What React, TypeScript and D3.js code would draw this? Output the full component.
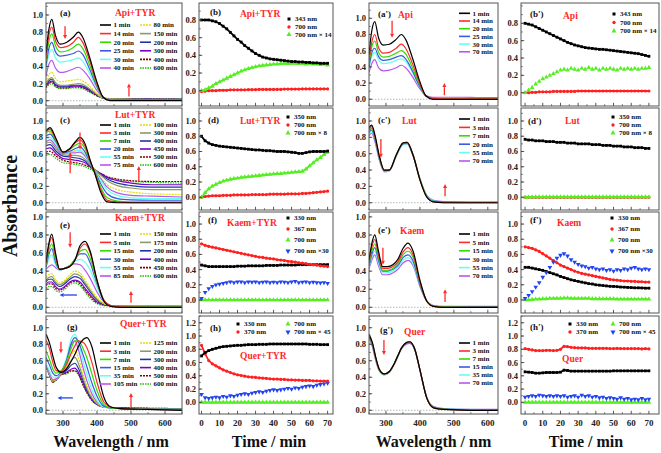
import React from "react";
import * as d3 from "d3";

const SERIF = "'Liberation Serif','Times New Roman',serif";
const RED = "#ff2a2a";

// ---------- time grid (min) ----------
const T = [0,2,4,6,8,10,12,14,16,18,20,22, 24,26,28,30,32,34,36,38,40,42,44,46, 48,50,52,54,56,58,60,62,64,66,68,70];

// ---------- time-course series ----------
const B_343 = [0.80,0.80,0.80,0.79,0.78,0.76,0.73,0.70,0.66,0.62,0.58,0.55, 0.51,0.48,0.45,0.42,0.40,0.38,0.37,0.36,0.355,0.35,0.345,0.34, 0.335,0.33,0.33,0.325,0.325,0.32,0.32,0.315,0.315,0.31,0.31,0.31];
const B_700 = [-0.01,-0.005,0,0,0,0.005,0.005,0.005,0.01,0.01,0.01,0.01, 0.01,0.012,0.012,0.012,0.015,0.015,0.015,0.015,0.015,0.015,0.015,0.018, 0.018,0.018,0.018,0.018,0.02,0.02,0.02,0.02,0.02,0.02,0.02,0.02];
const B_700x14 = [0.0,0.01,0.03,0.05,0.08,0.10,0.12,0.14,0.16,0.18,0.20,0.22, 0.235,0.25,0.26,0.27,0.28,0.285,0.29,0.295,0.30,0.30,0.305,0.31, 0.305,0.31,0.31,0.305,0.31,0.30,0.305,0.30,0.30,0.295,0.30,0.29];

const D_350 = [0.80,0.74,0.71,0.69,0.68,0.67,0.665,0.66,0.655,0.65,0.645,0.64, 0.635,0.63,0.625,0.62,0.62,0.615,0.61,0.61,0.605,0.60,0.60,0.60, 0.595,0.59,0.585,0.575,0.575,0.585,0.595,0.60,0.60,0.60,0.60,0.605];
const D_700 = [0.0,0.01,0.015,0.02,0.02,0.02,0.025,0.025,0.025,0.03,0.03,0.03, 0.03,0.03,0.035,0.035,0.035,0.035,0.035,0.04,0.04,0.04,0.04,0.04, 0.045,0.045,0.045,0.045,0.05,0.05,0.055,0.06,0.065,0.07,0.075,0.08];
const D_700x8 = [0.0,0.06,0.11,0.145,0.17,0.19,0.21,0.225,0.235,0.245,0.25,0.26, 0.265,0.27,0.275,0.28,0.285,0.29,0.295,0.30,0.305,0.31,0.31,0.315, 0.32,0.325,0.33,0.335,0.34,0.37,0.41,0.45,0.49,0.52,0.56,0.59];

const F_330 = [0.46,0.45,0.44,0.44,0.44,0.44,0.44,0.44,0.44,0.44,0.445,0.445, 0.445,0.45,0.45,0.45,0.45,0.45,0.455,0.455,0.455,0.455,0.46,0.46, 0.46,0.46,0.46,0.465,0.465,0.465,0.465,0.465,0.465,0.465,0.465,0.465];
const F_367 = [0.74,0.72,0.705,0.695,0.685,0.675,0.665,0.655,0.645,0.635,0.625,0.615, 0.605,0.595,0.585,0.575,0.565,0.56,0.55,0.545,0.54,0.53,0.525,0.52, 0.51,0.505,0.50,0.49,0.485,0.48,0.47,0.465,0.46,0.45,0.445,0.44];
const F_700 = [0,0,0,0,0,0,0,0,0,0,0,0, 0,0,0,0,0,0,0,0,0,0,0,0, 0,0,0,0,0,0,0,0,0,0,0,0];
const F_700x30 = [0.02,0.10,0.15,0.18,0.20,0.21,0.22,0.23,0.24,0.23,0.24,0.24, 0.23,0.24,0.235,0.24,0.23,0.235,0.24,0.23,0.235,0.23,0.24,0.235, 0.23,0.24,0.245,0.23,0.235,0.24,0.23,0.235,0.23,0.225,0.23,0.22];

const H_330 = [0.70,0.75,0.78,0.80,0.815,0.83,0.84,0.845,0.85,0.855,0.86,0.86, 0.865,0.87,0.87,0.87,0.875,0.875,0.875,0.88,0.88,0.88,0.88,0.88, 0.88,0.88,0.88,0.88,0.88,0.88,0.875,0.875,0.875,0.87,0.87,0.87];
const H_370 = [0.86,0.73,0.63,0.58,0.55,0.52,0.49,0.47,0.45,0.43,0.415,0.405, 0.395,0.385,0.38,0.375,0.37,0.365,0.36,0.355,0.35,0.35,0.345,0.345, 0.34,0.34,0.335,0.335,0.33,0.33,0.33,0.325,0.325,0.32,0.32,0.32];
const H_700 = [0,0,0,0,0,0,0,0,0,0,0,0, 0,0,0,0,0,0,0,0,0,0,0,0, 0,0,0,0,0,0,0,0,0,0,0,0];
const H_700x45 = [0.12,0.07,0.06,0.07,0.08,0.07,0.09,0.08,0.10,0.09,0.11,0.12, 0.13,0.12,0.14,0.15,0.16,0.15,0.17,0.18,0.19,0.18,0.19,0.20, 0.21,0.20,0.22,0.21,0.23,0.24,0.25,0.24,0.26,0.27,0.28,0.29];

const BP_343 = [0.80,0.79,0.78,0.76,0.74,0.72,0.70,0.68,0.66,0.64,0.62,0.60, 0.58,0.565,0.55,0.54,0.53,0.52,0.515,0.51,0.505,0.50,0.50,0.495, 0.49,0.485,0.48,0.475,0.47,0.465,0.46,0.455,0.45,0.44,0.43,0.42];
const BP_700 = [0,0,0.005,0.005,0.01,0.01,0.01,0.01,0.015,0.015,0.015,0.015, 0.015,0.015,0.015,0.02,0.02,0.02,0.02,0.02,0.02,0.02,0.02,0.02, 0.02,0.02,0.02,0.02,0.02,0.02,0.02,0.02,0.02,0.02,0.02,0.02];
const BP_700x14 = [0.0,0.03,0.06,0.10,0.13,0.16,0.18,0.20,0.22,0.24,0.26,0.27, 0.26,0.28,0.27,0.26,0.28,0.27,0.29,0.27,0.28,0.26,0.28,0.27, 0.28,0.27,0.26,0.28,0.27,0.28,0.27,0.28,0.27,0.28,0.28,0.29];

const DP_350 = [0.76,0.75,0.75,0.74,0.74,0.74,0.73,0.73,0.73,0.72,0.72,0.72, 0.71,0.71,0.71,0.70,0.70,0.70,0.70,0.69,0.69,0.69,0.68,0.68, 0.68,0.67,0.67,0.67,0.66,0.66,0.66,0.65,0.65,0.65,0.64,0.64];
const DP_700 = [0,0,0,0,0,0,0,0,0,0,0,0, 0,0,0,0,0,0,0,0,0,0,0,0, 0,0,0,0,0,0,0,0,0,0,0,0];
const DP_700x8 = [0,0,0.005,0.005,0.005,0.005,0.005,0.005,0.005,0.005,0.005,0.005, 0.005,0.005,0.005,0.005,0.005,0.005,0.005,0.005,0.005,0.005,0.005,0.005, 0.005,0.005,0.005,0.005,0.005,0.005,0.005,0.005,0.005,0.005,0.005,0.005];

const FP_330 = [0.43,0.43,0.42,0.41,0.40,0.39,0.375,0.36,0.345,0.33,0.31,0.295, 0.28,0.265,0.255,0.245,0.235,0.225,0.215,0.21,0.20,0.195,0.19,0.185, 0.18,0.178,0.175,0.17,0.168,0.165,0.163,0.16,0.16,0.158,0.155,0.155];
const FP_367 = [0.70,0.69,0.68,0.66,0.64,0.61,0.58,0.55,0.52,0.49,0.46,0.44, 0.42,0.40,0.38,0.365,0.35,0.34,0.33,0.32,0.31,0.30,0.29,0.28, 0.27,0.265,0.26,0.255,0.25,0.25,0.245,0.245,0.24,0.24,0.235,0.235];
const FP_700 = [0.0,0.0,0.005,0.01,0.01,0.015,0.015,0.02,0.02,0.02,0.02,0.025, 0.025,0.02,0.02,0.02,0.02,0.02,0.02,0.015,0.015,0.015,0.015,0.015, 0.015,0.015,0.01,0.01,0.01,0.01,0.01,0.01,0.01,0.01,0.01,0.01];
const FP_700x30 = [0.02,0.06,0.11,0.17,0.23,0.30,0.36,0.43,0.50,0.55,0.59,0.61, 0.58,0.53,0.50,0.47,0.45,0.44,0.42,0.43,0.41,0.40,0.41,0.39, 0.40,0.38,0.40,0.39,0.41,0.40,0.42,0.43,0.41,0.40,0.41,0.40];

const HP_330 = [0.46,0.455,0.45,0.44,0.44,0.445,0.45,0.45,0.45,0.45,0.455,0.485, 0.48,0.47,0.47,0.47,0.47,0.47,0.47,0.47,0.47,0.47,0.47,0.47, 0.47,0.475,0.475,0.475,0.475,0.475,0.475,0.475,0.475,0.475,0.475,0.475];
const HP_370 = [0.81,0.80,0.79,0.78,0.78,0.78,0.785,0.785,0.78,0.785,0.80,0.845, 0.84,0.83,0.825,0.82,0.82,0.82,0.815,0.815,0.815,0.815,0.815,0.815, 0.81,0.81,0.815,0.81,0.81,0.81,0.81,0.81,0.81,0.805,0.81,0.805];
const HP_700 = [0,0,0,0,0,0,0,0,0,0,0,0, 0,0,0,0,0,0,0,0,0,0,0,0, 0,0,0,0,0,0,0,0,0,0,0,0];
const HP_700x45 = [0.08,0.09,0.10,0.09,0.11,0.10,0.09,0.10,0.09,0.10,0.09,0.10, 0.08,0.09,0.10,0.08,0.11,0.09,0.10,0.08,0.09,0.07,0.08,0.06, 0.07,0.06,0.05,0.07,0.05,0.06,0.04,0.05,0.04,0.06,0.04,0.05];

// ---------- spectra ----------
const GRID_API = [250,258,267,278,292,310,330,345,358,378,398,418,438,470,520,580,650];
const API_TYR = [
  [0.55,0.82,0.95,0.76,0.66,0.68,0.74,0.80,0.74,0.51,0.24,0.04,0.0,0.0,0.0,0.0,0.0],
  [0.50,0.75,0.86,0.70,0.62,0.63,0.68,0.74,0.68,0.47,0.22,0.04,0.005,0.005,0.005,0.005,0.005],
  [0.46,0.68,0.78,0.64,0.57,0.58,0.62,0.66,0.61,0.42,0.20,0.04,0.01,0.005,0.005,0.005,0.005],
  [0.41,0.60,0.68,0.57,0.52,0.53,0.55,0.58,0.54,0.37,0.18,0.04,0.01,0.01,0.01,0.01,0.01],
  [0.37,0.53,0.60,0.50,0.45,0.46,0.48,0.50,0.46,0.32,0.16,0.04,0.01,0.01,0.01,0.01,0.01],
  [0.29,0.42,0.47,0.38,0.33,0.34,0.37,0.39,0.36,0.26,0.13,0.04,0.015,0.01,0.01,0.01,0.01],
  [0.21,0.30,0.33,0.26,0.22,0.23,0.24,0.25,0.23,0.17,0.09,0.03,0.02,0.015,0.015,0.01,0.01],
  [0.19,0.25,0.27,0.21,0.18,0.18,0.19,0.20,0.19,0.14,0.08,0.03,0.02,0.02,0.015,0.015,0.01],
  [0.18,0.23,0.25,0.19,0.17,0.17,0.18,0.18,0.17,0.13,0.07,0.03,0.02,0.02,0.02,0.015,0.015],
  [0.17,0.21,0.23,0.18,0.16,0.16,0.17,0.17,0.16,0.12,0.07,0.03,0.02,0.02,0.02,0.015,0.015],
  [0.16,0.20,0.22,0.17,0.15,0.15,0.16,0.16,0.15,0.11,0.06,0.03,0.02,0.02,0.02,0.02,0.015],
  [0.15,0.18,0.20,0.16,0.14,0.14,0.15,0.15,0.14,0.10,0.06,0.03,0.025,0.02,0.02,0.02,0.02],
];
const LEG_API_TYR = ["1 min","14 min","20 min","25 min","30 min","40 min","80 min","150 min","200 min","300 min","400 min","600 min"];

const API = [
  [0.55,0.84,0.96,0.76,0.67,0.68,0.74,0.80,0.74,0.51,0.24,0.04,0.0,0.0,0.0,0.0,0.0],
  [0.47,0.70,0.80,0.64,0.57,0.58,0.63,0.68,0.63,0.44,0.21,0.04,0.01,0.005,0.005,0.005,0.005],
  [0.43,0.64,0.72,0.58,0.52,0.53,0.57,0.60,0.56,0.39,0.19,0.04,0.01,0.01,0.01,0.01,0.01],
  [0.40,0.57,0.63,0.53,0.48,0.49,0.52,0.54,0.50,0.35,0.17,0.04,0.015,0.01,0.01,0.01,0.01],
  [0.38,0.53,0.58,0.49,0.44,0.45,0.48,0.50,0.47,0.33,0.16,0.04,0.015,0.015,0.015,0.01,0.01],
  [0.33,0.44,0.49,0.39,0.35,0.36,0.39,0.42,0.39,0.28,0.14,0.045,0.025,0.025,0.025,0.02,0.02],
];
const LEG_API = ["1 min","14 min","20 min","25 min","30 min","70 min"];

const GRID_LUT = [250,262,280,300,320,335,350,365,380,395,410,430,460,500,560,650];
const LUT_TYR = [
  [0.88,0.92,0.78,0.62,0.66,0.74,0.80,0.72,0.52,0.34,0.14,0.01,0.0,0.0,0.0,0.0],
  [0.87,0.90,0.77,0.62,0.66,0.73,0.77,0.69,0.51,0.35,0.17,0.03,0.01,0.0,0.0,0.0],
  [0.86,0.88,0.76,0.62,0.65,0.70,0.73,0.66,0.50,0.36,0.20,0.06,0.02,0.01,0.01,0.01],
  [0.82,0.84,0.74,0.61,0.63,0.66,0.68,0.62,0.49,0.37,0.24,0.11,0.05,0.035,0.03,0.03],
  [0.78,0.80,0.71,0.61,0.62,0.63,0.64,0.59,0.48,0.38,0.28,0.16,0.09,0.06,0.05,0.05],
  [0.75,0.77,0.69,0.60,0.61,0.61,0.62,0.57,0.47,0.38,0.30,0.19,0.12,0.09,0.08,0.07],
  [0.85,0.86,0.75,0.62,0.62,0.64,0.65,0.58,0.48,0.39,0.31,0.22,0.16,0.13,0.11,0.10],
  [0.73,0.74,0.66,0.59,0.58,0.58,0.57,0.53,0.46,0.40,0.34,0.27,0.21,0.18,0.16,0.16],
  [0.70,0.71,0.63,0.57,0.56,0.55,0.54,0.51,0.45,0.40,0.35,0.29,0.24,0.21,0.19,0.19],
  [0.66,0.67,0.60,0.54,0.53,0.52,0.51,0.49,0.44,0.40,0.36,0.31,0.27,0.24,0.22,0.22],
  [0.62,0.63,0.57,0.52,0.50,0.49,0.48,0.46,0.43,0.39,0.36,0.32,0.29,0.27,0.26,0.26],
  [0.58,0.59,0.54,0.49,0.48,0.47,0.46,0.44,0.41,0.38,0.35,0.31,0.28,0.26,0.25,0.24],
];
const LEG_LUT_TYR = ["1 min","3 min","7 min","20 min","55 min","75 min","100 min","300 min","400 min","450 min","500 min","600 min"];

const GRID_LUT2 = [250,258,268,280,295,310,330,350,362,380,400,420,440,470,550,650];
const LUT = [
  [0.92,0.95,0.82,0.58,0.40,0.40,0.58,0.73,0.74,0.58,0.28,0.07,0.01,0.0,0.0,0.0],
  [0.90,0.93,0.80,0.57,0.40,0.40,0.58,0.73,0.74,0.58,0.28,0.07,0.01,0.0,0.0,0.0],
  [0.88,0.91,0.79,0.56,0.39,0.40,0.58,0.73,0.74,0.58,0.29,0.08,0.015,0.005,0.0,0.0],
  [0.86,0.89,0.77,0.55,0.39,0.40,0.58,0.72,0.73,0.58,0.29,0.08,0.02,0.01,0.005,0.005],
  [0.84,0.87,0.76,0.54,0.38,0.39,0.57,0.71,0.72,0.57,0.29,0.09,0.025,0.01,0.01,0.01],
  [0.82,0.85,0.74,0.53,0.38,0.39,0.57,0.71,0.72,0.57,0.29,0.09,0.03,0.015,0.01,0.01],
];
const LEG_LUT = ["1 min","3 min","7 min","20 min","55 min","70 min"];

const GRID_KAEM = [250,258,267,278,290,305,320,335,350,365,380,400,420,440,470,550,650];
const KAEM_TYR = [
  [0.50,0.70,0.81,0.60,0.42,0.43,0.45,0.52,0.68,0.73,0.62,0.30,0.07,0.01,0.0,0.0,0.0],
  [0.48,0.67,0.77,0.57,0.42,0.43,0.45,0.52,0.65,0.70,0.60,0.30,0.08,0.02,0.005,0.0,0.0],
  [0.46,0.62,0.70,0.53,0.42,0.43,0.46,0.53,0.62,0.64,0.54,0.28,0.08,0.02,0.01,0.005,0.005],
  [0.44,0.58,0.65,0.50,0.42,0.43,0.46,0.53,0.59,0.59,0.49,0.26,0.08,0.02,0.01,0.005,0.005],
  [0.43,0.53,0.58,0.47,0.41,0.43,0.46,0.51,0.53,0.50,0.41,0.22,0.07,0.02,0.01,0.01,0.01],
  [0.42,0.45,0.47,0.44,0.41,0.43,0.46,0.48,0.47,0.41,0.32,0.17,0.06,0.02,0.01,0.01,0.01],
  [0.33,0.36,0.37,0.31,0.27,0.30,0.36,0.40,0.38,0.30,0.21,0.11,0.04,0.02,0.01,0.01,0.01],
  [0.30,0.33,0.34,0.28,0.25,0.28,0.33,0.37,0.35,0.27,0.19,0.09,0.04,0.02,0.01,0.01,0.01],
  [0.28,0.31,0.31,0.26,0.23,0.26,0.31,0.34,0.32,0.25,0.17,0.08,0.03,0.02,0.01,0.01,0.01],
  [0.25,0.28,0.28,0.23,0.20,0.23,0.28,0.30,0.28,0.21,0.14,0.06,0.03,0.02,0.01,0.01,0.01],
  [0.24,0.26,0.26,0.21,0.19,0.22,0.27,0.29,0.26,0.19,0.12,0.05,0.03,0.02,0.01,0.01,0.01],
  [0.21,0.23,0.23,0.19,0.17,0.20,0.25,0.27,0.24,0.17,0.10,0.04,0.02,0.015,0.01,0.01,0.01],
];
const LEG_KAEM_TYR = ["1 min","5 min","15 min","30 min","55 min","85 min","150 min","175 min","200 min","400 min","450 min","600 min"];

const KAEM = [
  [0.52,0.70,0.80,0.62,0.45,0.45,0.47,0.53,0.65,0.71,0.62,0.30,0.07,0.01,0.0,0.0,0.0],
  [0.50,0.66,0.75,0.58,0.43,0.43,0.45,0.50,0.61,0.66,0.58,0.28,0.07,0.01,0.0,0.0,0.0],
  [0.48,0.62,0.70,0.55,0.41,0.41,0.43,0.48,0.58,0.62,0.55,0.27,0.07,0.015,0.005,0.0,0.0],
  [0.46,0.58,0.66,0.52,0.40,0.40,0.42,0.46,0.55,0.58,0.51,0.25,0.07,0.015,0.005,0.005,0.005],
  [0.44,0.55,0.62,0.49,0.38,0.38,0.40,0.44,0.52,0.55,0.48,0.24,0.07,0.02,0.01,0.005,0.005],
  [0.42,0.52,0.58,0.46,0.36,0.36,0.38,0.42,0.49,0.52,0.46,0.23,0.07,0.02,0.01,0.01,0.01],
];
const LEG_KAEM = ["1 min","5 min","15 min","30 min","55 min","70 min"];

const GRID_QUER = [250,260,270,280,295,310,325,335,345,360,370,385,400,420,440,470,550,650];
const QUER_TYR = [
  [0.92,0.82,0.66,0.52,0.46,0.50,0.60,0.68,0.77,0.86,0.88,0.77,0.50,0.16,0.04,0.02,0.01,0.0],
  [0.85,0.75,0.58,0.48,0.47,0.55,0.70,0.78,0.84,0.82,0.76,0.58,0.34,0.10,0.04,0.02,0.01,0.005],
  [0.72,0.62,0.50,0.45,0.48,0.58,0.76,0.84,0.84,0.74,0.64,0.44,0.24,0.07,0.03,0.02,0.01,0.01],
  [0.64,0.55,0.45,0.42,0.47,0.60,0.82,0.88,0.83,0.66,0.53,0.33,0.17,0.05,0.03,0.02,0.01,0.01],
  [0.57,0.48,0.40,0.40,0.47,0.63,0.88,0.92,0.82,0.58,0.44,0.25,0.12,0.04,0.03,0.02,0.01,0.01],
  [0.55,0.45,0.37,0.38,0.46,0.58,0.80,0.84,0.74,0.50,0.36,0.20,0.10,0.04,0.03,0.02,0.015,0.01],
  [0.55,0.44,0.36,0.37,0.45,0.54,0.68,0.72,0.64,0.43,0.30,0.17,0.09,0.04,0.03,0.02,0.015,0.01],
  [0.54,0.43,0.35,0.37,0.44,0.51,0.61,0.64,0.57,0.38,0.27,0.15,0.08,0.04,0.03,0.02,0.015,0.015],
  [0.54,0.43,0.35,0.37,0.44,0.48,0.55,0.57,0.51,0.35,0.25,0.14,0.07,0.04,0.03,0.025,0.02,0.015],
  [0.55,0.43,0.35,0.37,0.44,0.46,0.50,0.51,0.46,0.32,0.23,0.13,0.07,0.04,0.03,0.025,0.02,0.02],
  [0.55,0.43,0.34,0.37,0.43,0.45,0.48,0.48,0.44,0.30,0.22,0.12,0.07,0.04,0.035,0.03,0.025,0.02],
  [0.56,0.44,0.34,0.36,0.43,0.44,0.47,0.47,0.43,0.29,0.21,0.12,0.07,0.045,0.035,0.03,0.025,0.02],
];
const LEG_QUER_TYR = ["1 min","3 min","7 min","15 min","35 min","105 min","125 min","200 min","300 min","400 min","500 min","600 min"];

const QUER = [
  [0.92,0.82,0.64,0.50,0.44,0.47,0.57,0.66,0.75,0.82,0.83,0.74,0.49,0.15,0.03,0.01,0.0,0.0],
  [0.91,0.81,0.63,0.50,0.44,0.47,0.57,0.66,0.75,0.82,0.83,0.74,0.49,0.15,0.03,0.01,0.0,0.0],
  [0.90,0.80,0.63,0.49,0.44,0.47,0.57,0.66,0.75,0.82,0.83,0.74,0.49,0.15,0.035,0.015,0.005,0.0],
  [0.89,0.79,0.62,0.49,0.44,0.47,0.57,0.66,0.75,0.81,0.82,0.73,0.49,0.15,0.04,0.015,0.005,0.005],
  [0.88,0.78,0.61,0.48,0.43,0.46,0.56,0.65,0.74,0.81,0.82,0.73,0.49,0.16,0.04,0.02,0.01,0.005],
  [0.87,0.77,0.60,0.48,0.43,0.46,0.56,0.65,0.74,0.80,0.81,0.73,0.49,0.16,0.045,0.02,0.01,0.01],
];
const LEG_QUER = ["1 min","3 min","7 min","15 min","35 min","70 min"];

const SPEC_TICKS = [0, 0.2, 0.4, 0.6, 0.8, 1.0];
const WL_TICKS = [300, 400, 500, 600];
const TIME_TICKS = [0, 10, 20, 30, 40, 50, 60, 70];

// ---------- styles / layout ----------
const SPEC_COLORS = ["#000000","#ff2a2a","#33dd00","#3a5ae0","#66ffee","#bb55ee","#e0e000","#8c9a6a","#2233aa","#7a00cc","#800000","#22bb00"];
const SPEC_DASH: (string | undefined)[] = [undefined,undefined,undefined,undefined,undefined,undefined,"2,1",undefined,undefined,undefined,"2,1","1.5,1"];
const S_BLACK = "#000000", S_RED = "#ff2020", S_GREEN = "#55ee22", S_BLUE = "#2244ee";

const COLS = [
  { x0: 46, x1: 182, dom: [250, 650] },
  { x0: 199, x1: 333, dom: [-1.4, 73] },
  { x0: 369, x1: 498, dom: [250, 630] },
  { x0: 521, x1: 659, dom: [-2.3, 75.7] },
];
const ROWS = [
  { y0: 3, y1: 106 },
  { y0: 108, y1: 210 },
  { y0: 212, y1: 313 },
  { y0: 316, y1: 414 },
];

type Arrow = { x1: number; y1: number; x2: number; y2: number; c: string };
type SpecPanel = {
  col: number; row: number; grid: number[]; curves: number[][]; labels: string[];
  ydom: [number, number]; tag: string; tagPos: [number, number]; name: string; namePos: [number, number];
  leg: { dx: number; dy0: number; step: number; dx2?: number }; arrows: Arrow[];
};

const SPECTRA: SpecPanel[] = [
  { col: 0, row: 0, grid: GRID_API, curves: API_TYR, labels: LEG_API_TYR, ydom: [-0.062, 1.14],
    tag: "(a)", tagPos: [14, 13], name: "Api+TYR", namePos: [69, 13], leg: { dx: 54, dy0: 22, step: 8.6, dx2: 94 },
    arrows: [{ x1: 306, y1: 0.87, x2: 306, y2: 0.72, c: RED }, { x1: 494, y1: 0.05, x2: 494, y2: 0.2, c: RED }] },
  { col: 0, row: 1, grid: GRID_LUT, curves: LUT_TYR, labels: LEG_LUT_TYR, ydom: [-0.089, 1.159],
    tag: "(c)", tagPos: [14, 15], name: "Lut+TYR", namePos: [69, 10], leg: { dx: 54, dy0: 17, step: 8.0, dx2: 94 },
    arrows: [{ x1: 321, y1: 0.36, x2: 321, y2: 0.62, c: RED }, { x1: 350, y1: 0.86, x2: 350, y2: 0.65, c: RED }, { x1: 523, y1: 0.26, x2: 523, y2: 0.45, c: RED }] },
  { col: 0, row: 2, grid: GRID_KAEM, curves: KAEM_TYR, labels: LEG_KAEM_TYR, ydom: [-0.063, 1.054],
    tag: "(e)", tagPos: [14, 16], name: "Kaem+TYR", namePos: [69, 9], leg: { dx: 54, dy0: 22, step: 8.4, dx2: 94 },
    arrows: [{ x1: 321, y1: 0.83, x2: 321, y2: 0.66, c: RED }, { x1: 341, y1: 0.136, x2: 290, y2: 0.136, c: S_BLUE }, { x1: 500, y1: 0.05, x2: 500, y2: 0.18, c: RED }] },
  { col: 0, row: 3, grid: GRID_QUER, curves: QUER_TYR, labels: LEG_QUER_TYR, ydom: [-0.045, 1.142],
    tag: "(g)", tagPos: [21, 14], name: "Quer+TYR", namePos: [74, 11], leg: { dx: 54, dy0: 27, step: 8.2, dx2: 94 },
    arrows: [{ x1: 294, y1: 0.83, x2: 294, y2: 0.69, c: RED }, { x1: 329, y1: 0.15, x2: 284, y2: 0.15, c: S_BLUE }, { x1: 500, y1: 0.04, x2: 500, y2: 0.21, c: RED }] },
  { col: 2, row: 0, grid: GRID_API, curves: API, labels: LEG_API, ydom: [-0.083, 1.189],
    tag: "(a')", tagPos: [9, 14], name: "Api", namePos: [29, 15], leg: { dx: 90, dy0: 10.3, step: 7.7 },
    arrows: [{ x1: 318, y1: 0.97, x2: 318, y2: 0.76, c: RED }, { x1: 472, y1: 0.05, x2: 472, y2: 0.2, c: RED }] },
  { col: 2, row: 1, grid: GRID_LUT2, curves: LUT, labels: LEG_LUT, ydom: [-0.089, 1.159],
    tag: "(c')", tagPos: [9, 15], name: "Lut", namePos: [33, 16], leg: { dx: 90, dy0: 11, step: 8.4 },
    arrows: [{ x1: 285, y1: 0.78, x2: 285, y2: 0.55, c: RED }, { x1: 474, y1: 0.08, x2: 474, y2: 0.23, c: RED }] },
  { col: 2, row: 2, grid: GRID_KAEM, curves: KAEM, labels: LEG_KAEM, ydom: [-0.063, 1.054],
    tag: "(e')", tagPos: [9, 21], name: "Kaem", namePos: [31, 22], leg: { dx: 90, dy0: 22, step: 8.4 },
    arrows: [{ x1: 291, y1: 0.66, x2: 291, y2: 0.47, c: RED }, { x1: 474, y1: 0.06, x2: 474, y2: 0.2, c: RED }] },
  { col: 2, row: 3, grid: GRID_QUER, curves: QUER, labels: LEG_QUER, ydom: [-0.045, 1.142],
    tag: "(g')", tagPos: [11, 17], name: "Quer", namePos: [35, 19], leg: { dx: 90, dy0: 27, step: 8.0 },
    arrows: [{ x1: 294, y1: 0.85, x2: 294, y2: 0.67, c: RED }] },
];

type Series = { vals: number[]; color: string; mk: string; line?: boolean };
type LegEntry = { label: string; color: string; mk: string; dx: number; dy: number };
type TimePanel = {
  col: number; row: number; ydom: [number, number]; yticks: number[]; series: Series[];
  legend: LegEntry[]; tag: string; tagPos: [number, number]; name: string; namePos: [number, number];
};

const TIMES: TimePanel[] = [
  { col: 1, row: 0, ydom: [-0.173, 0.992], yticks: [0, 0.2, 0.4, 0.6, 0.8],
    series: [{ vals: B_700, color: S_RED, mk: "circle", line: true }, { vals: B_700x14, color: S_GREEN, mk: "tri", line: true }, { vals: B_343, color: S_BLACK, mk: "square", line: true }],
    legend: [{ label: "343 nm", color: S_BLACK, mk: "square", dx: 90, dy: 16 }, { label: "700 nm", color: S_RED, mk: "circle", dx: 90, dy: 24 }, { label: "700 nm × 14", color: S_GREEN, mk: "tri", dx: 90, dy: 31.5 }],
    tag: "(b)", tagPos: [11, 12], name: "Api+TYR", namePos: [41, 14] },
  { col: 1, row: 1, ydom: [-0.167, 1.17], yticks: [0, 0.2, 0.4, 0.6, 0.8, 1.0],
    series: [{ vals: D_700, color: S_RED, mk: "circle", line: true }, { vals: D_700x8, color: S_GREEN, mk: "tri", line: true }, { vals: D_350, color: S_BLACK, mk: "square", line: true }],
    legend: [{ label: "350 nm", color: S_BLACK, mk: "square", dx: 89, dy: 9 }, { label: "700 nm", color: S_RED, mk: "circle", dx: 89, dy: 17 }, { label: "700 nm × 8", color: S_GREEN, mk: "tri", dx: 89, dy: 25 }],
    tag: "(d)", tagPos: [9, 15], name: "Lut+TYR", namePos: [41, 16] },
  { col: 1, row: 2, ydom: [-0.172, 1.159], yticks: [0, 0.2, 0.4, 0.6, 0.8, 1.0],
    series: [{ vals: F_700, color: S_GREEN, mk: "tri", line: true }, { vals: F_700x30, color: S_BLUE, mk: "dtri" }, { vals: F_330, color: S_BLACK, mk: "square", line: true }, { vals: F_367, color: S_RED, mk: "circle", line: true }],
    legend: [{ label: "330 nm", color: S_BLACK, mk: "square", dx: 89, dy: 6 }, { label: "367 nm", color: S_RED, mk: "circle", dx: 89, dy: 17 }, { label: "700 nm", color: S_GREEN, mk: "tri", dx: 89, dy: 28 }, { label: "700 nm  ×30", color: S_BLUE, mk: "dtri", dx: 89, dy: 39 }],
    tag: "(f)", tagPos: [9, 11], name: "Kaem+TYR", namePos: [28, 14] },
  { col: 1, row: 3, ydom: [-0.176, 1.302], yticks: [0, 0.2, 0.4, 0.6, 0.8, 1.0, 1.2],
    series: [{ vals: H_700, color: S_GREEN, mk: "tri", line: true }, { vals: H_700x45, color: S_BLUE, mk: "dtri" }, { vals: H_370, color: S_RED, mk: "circle", line: true }, { vals: H_330, color: S_BLACK, mk: "square", line: true }],
    legend: [{ label: "330 nm", color: S_BLACK, mk: "square", dx: 39, dy: 8 }, { label: "370 nm", color: S_RED, mk: "circle", dx: 39, dy: 16 }, { label: "700 nm", color: S_GREEN, mk: "tri", dx: 89, dy: 8 }, { label: "700 nm × 45", color: S_BLUE, mk: "dtri", dx: 89, dy: 16 }],
    tag: "(h)", tagPos: [11, 15], name: "Quer+TYR", namePos: [41, 43] },
  { col: 3, row: 0, ydom: [-0.153, 1.034], yticks: [0, 0.2, 0.4, 0.6, 0.8],
    series: [{ vals: BP_700, color: S_RED, mk: "circle", line: true }, { vals: BP_700x14, color: S_GREEN, mk: "tri" }, { vals: BP_343, color: S_BLACK, mk: "square", line: true }],
    legend: [{ label: "343 nm", color: S_BLACK, mk: "square", dx: 93, dy: 11 }, { label: "700 nm", color: S_RED, mk: "circle", dx: 93, dy: 19.5 }, { label: "700 nm × 14", color: S_GREEN, mk: "tri", dx: 93, dy: 28 }],
    tag: "(b')", tagPos: [9, 14], name: "Api", namePos: [42, 16] },
  { col: 3, row: 1, ydom: [-0.167, 1.17], yticks: [0, 0.2, 0.4, 0.6, 0.8, 1.0],
    series: [{ vals: DP_700, color: S_RED, mk: "circle", line: true }, { vals: DP_700x8, color: S_GREEN, mk: "tri", line: true }, { vals: DP_350, color: S_BLACK, mk: "square", line: true }],
    legend: [{ label: "350 nm", color: S_BLACK, mk: "square", dx: 92, dy: 9 }, { label: "700 nm", color: S_RED, mk: "circle", dx: 92, dy: 17 }, { label: "700 nm × 8", color: S_GREEN, mk: "tri", dx: 92, dy: 25 }],
    tag: "(d')", tagPos: [7, 16], name: "Lut", namePos: [44, 16] },
  { col: 3, row: 2, ydom: [-0.172, 1.159], yticks: [0, 0.2, 0.4, 0.6, 0.8, 1.0],
    series: [{ vals: FP_700, color: S_GREEN, mk: "tri", line: true }, { vals: FP_330, color: S_BLACK, mk: "square", line: true }, { vals: FP_367, color: S_RED, mk: "circle", line: true }, { vals: FP_700x30, color: S_BLUE, mk: "dtri" }],
    legend: [{ label: "330 nm", color: S_BLACK, mk: "square", dx: 91, dy: 6 }, { label: "367 nm", color: S_RED, mk: "circle", dx: 91, dy: 17 }, { label: "700 nm", color: S_GREEN, mk: "tri", dx: 91, dy: 28 }, { label: "700 nm  ×30", color: S_BLUE, mk: "dtri", dx: 91, dy: 39 }],
    tag: "(f')", tagPos: [9, 11], name: "Kaem", namePos: [36, 14] },
  { col: 3, row: 3, ydom: [-0.176, 1.302], yticks: [0, 0.2, 0.4, 0.6, 0.8, 1.0, 1.2],
    series: [{ vals: HP_700, color: S_GREEN, mk: "tri", line: true }, { vals: HP_700x45, color: S_BLUE, mk: "dtri" }, { vals: HP_370, color: S_RED, mk: "circle", line: true }, { vals: HP_330, color: S_BLACK, mk: "square", line: true }],
    legend: [{ label: "330 nm", color: S_BLACK, mk: "square", dx: 49, dy: 8 }, { label: "370 nm", color: S_RED, mk: "circle", dx: 49, dy: 16 }, { label: "700 nm", color: S_GREEN, mk: "tri", dx: 92, dy: 8 }, { label: "700 nm × 45", color: S_BLUE, mk: "dtri", dx: 92, dy: 16 }],
    tag: "(h')", tagPos: [9, 14], name: "Quer", namePos: [41, 46] },
];

// ---------- helpers ----------
function symbolPath(mk: string, size: number) {
  if (mk === "square") return d3.symbol().type(d3.symbolSquare).size(size)() || "";
  if (mk === "circle") return d3.symbol().type(d3.symbolCircle).size(size)() || "";
  return d3.symbol().type(d3.symbolTriangle).size(size * 1.2)() || "";
}

function ArrowMark({ a, xs, ys }: { a: Arrow; xs: any; ys: any }) {
  const X1 = xs(a.x1), Y1 = ys(a.y1), X2 = xs(a.x2), Y2 = ys(a.y2);
  const ang = Math.atan2(Y2 - Y1, X2 - X1);
  const L = 4, Wd = 2;
  const bx = X2 - L * Math.cos(ang), by = Y2 - L * Math.sin(ang);
  const px = -Math.sin(ang) * Wd, py = Math.cos(ang) * Wd;
  return (
    <g>
      <line x1={X1} y1={Y1} x2={bx} y2={by} stroke={a.c} strokeWidth={1.3} />
      <path d={`M${X2},${Y2}L${bx + px},${by + py}L${bx - px},${by - py}Z`} fill={a.c} />
    </g>
  );
}

function Axes({ col, row, xs, ys, yticks, xticks, xminor, showX }: any) {
  const c = COLS[col], r = ROWS[row];
  const fmt = d3.format(".1f");
  const yd = ys.domain();
  const yminor = d3.range(0, 1.35, 0.1).filter((v: number) => v >= yd[0] && v <= yd[1]);
  return (
    <g>
      <rect x={c.x0} y={r.y0} width={c.x1 - c.x0} height={r.y1 - r.y0} fill="none" stroke="#555" strokeWidth={1} />
      {yminor.map((v: number, i: number) => (
        <line key={"ym" + i} x1={c.x0} x2={c.x0 + 1.8} y1={ys(v)} y2={ys(v)} stroke="#555" strokeWidth={0.8} />
      ))}
      {yticks.map((v: number) => (
        <g key={"y" + v}>
          <line x1={c.x0} x2={c.x0 + 3.2} y1={ys(v)} y2={ys(v)} stroke="#444" strokeWidth={0.9} />
          <text x={c.x0 - 3} y={ys(v) + 3} textAnchor="end" fontFamily={SERIF} fontWeight="bold" fontSize={8.5} fill="#222">{fmt(v)}</text>
        </g>
      ))}
      {xminor.map((v: number, i: number) => (
        <line key={"xm" + i} x1={xs(v)} x2={xs(v)} y1={r.y1} y2={r.y1 - 1.8} stroke="#555" strokeWidth={0.8} />
      ))}
      {xticks.map((v: number) => (
        <g key={"x" + v}>
          <line x1={xs(v)} x2={xs(v)} y1={r.y1} y2={r.y1 - 3.2} stroke="#444" strokeWidth={0.9} />
          {showX && (
            <text x={xs(v)} y={r.y1 + 12} textAnchor="middle" fontFamily={SERIF} fontWeight="bold" fontSize={9} fill="#222">{v}</text>
          )}
        </g>
      ))}
    </g>
  );
}

function Spectra({ p }: { p: SpecPanel }) {
  const c = COLS[p.col], r = ROWS[p.row];
  const xs = d3.scaleLinear().domain(c.dom).range([c.x0, c.x1]);
  const ys = d3.scaleLinear().domain(p.ydom).range([r.y1, r.y0]);
  const line = d3.line<[number, number]>().x((d) => xs(d[0])).y((d) => ys(d[1])).curve(d3.curveMonotoneX);
  const id = `clip-s-${p.col}-${p.row}`;
  const order = p.curves.map((_, i) => i).reverse();
  const xminor = [250, 350, 450, 550, 650].filter((v) => v >= c.dom[0] && v <= c.dom[1]);
  return (
    <g>
      <defs>
        <clipPath id={id}><rect x={c.x0} y={r.y0} width={c.x1 - c.x0} height={r.y1 - r.y0} /></clipPath>
      </defs>
      <line x1={c.x0} x2={c.x1} y1={ys(0)} y2={ys(0)} stroke="#9aa" strokeWidth={0.8} strokeDasharray="1.5,1.5" />
      <g clipPath={`url(#${id})`}>
        {order.map((i) => (
          <path key={i} d={line(p.grid.map((w, k) => [w, p.curves[i][k]] as [number, number])) || ""}
            fill="none" stroke={SPEC_COLORS[i]} strokeWidth={1.2} strokeDasharray={SPEC_DASH[i]} />
        ))}
      </g>
      <Axes col={p.col} row={p.row} xs={xs} ys={ys} yticks={SPEC_TICKS.filter((v) => v <= p.ydom[1])}
        xticks={WL_TICKS} xminor={xminor} showX={p.row === 3} />
      {p.labels.map((lab, i) => {
        const colIdx = p.labels.length > 6 && i >= 6 ? 1 : 0;
        const k = i % 6;
        const lx = c.x0 + (colIdx === 0 ? p.leg.dx : (p.leg.dx2 || 0));
        const ly = r.y0 + p.leg.dy0 + k * p.leg.step;
        return (
          <g key={lab}>
            <line x1={lx} x2={lx + 11} y1={ly} y2={ly} stroke={SPEC_COLORS[i]} strokeWidth={1.6} strokeDasharray={SPEC_DASH[i]} />
            <text x={lx + 13.5} y={ly + 2.4} fontFamily={SERIF} fontWeight="bold" fontSize={7} fill="#111">{lab}</text>
          </g>
        );
      })}
      {p.arrows.map((a, i) => <ArrowMark key={i} a={a} xs={xs} ys={ys} />)}
      <text x={c.x0 + p.tagPos[0]} y={r.y0 + p.tagPos[1]} fontFamily={SERIF} fontWeight="bold" fontSize={9} fill="#111">{p.tag}</text>
      <text x={c.x0 + p.namePos[0]} y={r.y0 + p.namePos[1]} fontFamily={SERIF} fontWeight="bold" fontSize={9.5} fill={RED}>{p.name}</text>
    </g>
  );
}

function TimeCourse({ p }: { p: TimePanel }) {
  const c = COLS[p.col], r = ROWS[p.row];
  const xs = d3.scaleLinear().domain(c.dom).range([c.x0, c.x1]);
  const ys = d3.scaleLinear().domain(p.ydom).range([r.y1, r.y0]);
  const line = d3.line<[number, number]>().x((d) => xs(d[0])).y((d) => ys(d[1]));
  const id = `clip-t-${p.col}-${p.row}`;
  const xminor = [5, 15, 25, 35, 45, 55, 65];
  return (
    <g>
      <defs>
        <clipPath id={id}><rect x={c.x0} y={r.y0} width={c.x1 - c.x0} height={r.y1 - r.y0} /></clipPath>
      </defs>
      <g clipPath={`url(#${id})`}>
        {p.series.map((s, si) => {
          const pts = T.map((t, k) => [t, s.vals[k]] as [number, number]).filter((d) => d[1] !== undefined);
          const sym = symbolPath(s.mk, 8);
          return (
            <g key={si}>
              {s.line && <path d={line(pts) || ""} fill="none" stroke={s.color} strokeWidth={1.8} />}
              {pts.map((d, k) => (
                <path key={k} d={sym} fill={s.color}
                  transform={`translate(${xs(d[0])},${ys(d[1])})${s.mk === "dtri" ? " rotate(180)" : ""}`} />
              ))}
            </g>
          );
        })}
      </g>
      <Axes col={p.col} row={p.row} xs={xs} ys={ys} yticks={p.yticks} xticks={TIME_TICKS} xminor={xminor} showX={p.row === 3} />
      {p.legend.map((e, i) => {
        const lx = c.x0 + e.dx, ly = r.y0 + e.dy;
        return (
          <g key={i}>
            <path d={symbolPath(e.mk, 9)} fill={e.color} transform={`translate(${lx},${ly})${e.mk === "dtri" ? " rotate(180)" : ""}`} />
            <text x={lx + 6} y={ly + 2.4} fontFamily={SERIF} fontWeight="bold" fontSize={7} fill="#111">{e.label}</text>
          </g>
        );
      })}
      <text x={c.x0 + p.tagPos[0]} y={r.y0 + p.tagPos[1]} fontFamily={SERIF} fontWeight="bold" fontSize={9} fill="#111">{p.tag}</text>
      <text x={c.x0 + p.namePos[0]} y={r.y0 + p.namePos[1]} fontFamily={SERIF} fontWeight="bold" fontSize={9.5} fill={RED}>{p.name}</text>
    </g>
  );
}

export default function App() {
  const cx = (i: number) => (COLS[i].x0 + COLS[i].x1) / 2;
  return (
    <svg width={661} height={453} viewBox="0 0 661 453" style={{ position: "absolute", left: 0, top: 0, display: "block" }}>
      <rect x={0} y={0} width={661} height={453} fill="#ffffff" />
      {SPECTRA.map((p, i) => <Spectra key={"s" + i} p={p} />)}
      {TIMES.map((p, i) => <TimeCourse key={"t" + i} p={p} />)}
      <text transform="translate(17,206) rotate(-90)" textAnchor="middle" fontFamily={SERIF} fontWeight="bold" fontSize={20} fill="#111">Absorbance</text>
      <text x={cx(0) - 3} y={447} textAnchor="middle" fontFamily={SERIF} fontWeight="bold" fontSize={16} fill="#111">Wavelength / nm</text>
      <text x={cx(2)} y={447} textAnchor="middle" fontFamily={SERIF} fontWeight="bold" fontSize={16} fill="#111">Wavelength / nm</text>
      <text x={cx(1) + 3} y={447} textAnchor="middle" fontFamily={SERIF} fontWeight="bold" fontSize={16} fill="#111">Time / min</text>
      <text x={cx(3) - 4} y={447} textAnchor="middle" fontFamily={SERIF} fontWeight="bold" fontSize={16} fill="#111">Time / min</text>
    </svg>
  );
}
